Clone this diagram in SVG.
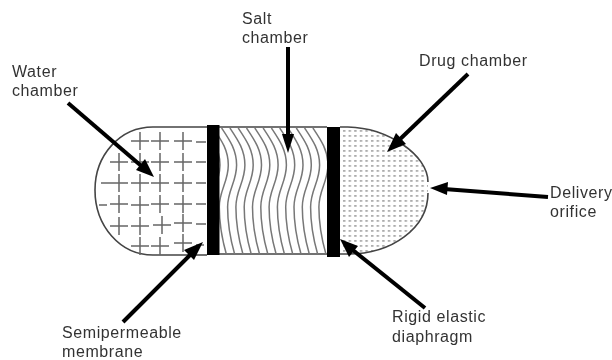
<svg xmlns="http://www.w3.org/2000/svg" width="612" height="360" viewBox="0 0 612 360">
<style>
text{font-family:"Liberation Sans","Open Sans",sans-serif;font-size:16px;letter-spacing:.6px;fill:#333;filter:url(#soft)}
.shell{fill:none;stroke:#444;stroke-width:1.6}
.plus{stroke:#666;stroke-width:1.5;fill:none}
.wave{stroke:#777;stroke-width:1.5;fill:none}
.bar{fill:#000}
.arrow{stroke:#000;stroke-width:4;fill:none}
.head{fill:#000}
</style>
<defs>
<filter id="soft" x="-5%" y="-5%" width="110%" height="110%"><feGaussianBlur stdDeviation="0.7"/></filter>
<pattern id="dots" width="5.6" height="5" patternUnits="userSpaceOnUse" x="342" y="129">
<rect x="1" y="1" width="2.4" height="1.8" fill="#aaa"/>
</pattern>
<clipPath id="mid"><rect x="219" y="128" width="108" height="126"/></clipPath>
<path id="w" d="M0 128C8 140 15 150 15 165C15 182 6 190 6 207C6 225 9 240 13 254"/>
<path id="p" d="M-9 0H9M0 -9V9"/>
</defs>
<rect width="612" height="360" fill="#fff"/>
<g filter="url(#soft)">
<g id="drug-chamber">
<path d="M340 128H348C388 128 428 155 428 182V193C428 228 392 254 348 254H340Z" fill="url(#dots)"/>
<path class="shell" d="M340 127H348C388 128 428 155 428 182M428 193C428 228 392 254 348 254H340"/>
</g>
<g id="water-chamber">
<path class="shell" d="M207 127H153C120 127 95 155 95 190C95 226 120 255 153 255H207"/>
<g class="plus">
<use href="#p" x="140" y="141"/><use href="#p" x="160" y="141"/><use href="#p" x="183" y="141"/><path d="M196 142H206"/>
<use href="#p" x="119" y="162"/><use href="#p" x="140" y="162"/><use href="#p" x="160" y="162"/><use href="#p" x="183" y="162"/><path d="M196 162H206"/>
<path d="M101 183H110"/><use href="#p" x="119" y="183"/><use href="#p" x="140" y="183"/><use href="#p" x="160" y="183"/><use href="#p" x="183" y="183"/><path d="M196 183H206"/>
<path d="M99 205H107"/><use href="#p" x="119" y="204"/><use href="#p" x="140" y="205"/><use href="#p" x="160" y="204"/><use href="#p" x="183" y="204"/><path d="M196 204H206"/>
<use href="#p" x="119" y="226"/><use href="#p" x="140" y="226"/><use href="#p" x="162" y="225"/><use href="#p" x="183" y="223"/><path d="M196 224H206"/>
<use href="#p" x="140" y="246"/><use href="#p" x="160" y="246"/><use href="#p" x="183" y="243"/><path d="M196 245H204"/>
</g>
</g>
<g id="salt-chamber">
<path class="shell" d="M219 127H327M219 254H327"/>
<g class="wave" clip-path="url(#mid)">
<use href="#w" x="205"/><use href="#w" x="213.3"/><use href="#w" x="221.6"/><use href="#w" x="229.9"/><use href="#w" x="238.2"/><use href="#w" x="246.5"/><use href="#w" x="254.8"/><use href="#w" x="263.1"/><use href="#w" x="271.4"/><use href="#w" x="279.7"/><use href="#w" x="288"/><use href="#w" x="296.3"/><use href="#w" x="304.6"/><use href="#w" x="312.9"/>
</g>
</g>
<g id="semipermeable-membrane"><rect class="bar" x="207" y="125" width="12.500" height="130"/></g>
<g id="rigid-elastic-diaphragm"><rect class="bar" x="327" y="127" width="13" height="130"/></g>
<g id="connectors">
<path class="arrow" d="M68 103L146 170"/><path class="head" d="M154 177L136 170L145 159Z"/>
<path class="arrow" d="M288 47V138"/><path class="head" d="M288 153L282 134H294Z"/>
<path class="arrow" d="M468 74L396 143"/><path class="head" d="M387 152L396 133L406 144Z"/>
<path class="arrow" d="M548 197L444 189"/><path class="head" d="M430 188L448 182L447 195Z"/>
<path class="arrow" d="M123 322L194 251"/><path class="head" d="M203 242L194 260L184 250Z"/>
<path class="arrow" d="M425 308L349 247"/><path class="head" d="M340 239L358 246L349 257Z"/>
</g>
</g>
<g id="labels">
<text x="12" y="77">Water</text><text x="12" y="96">chamber</text>
<text x="242" y="24">Salt</text><text x="242" y="43">chamber</text>
<text x="419" y="66">Drug chamber</text>
<text x="550" y="198">Delivery</text><text x="550" y="217">orifice</text>
<text x="62" y="338">Semipermeable</text><text x="62" y="357">membrane</text>
<text x="392" y="322">Rigid elastic</text><text x="392" y="342">diaphragm</text>
</g>
</svg>
